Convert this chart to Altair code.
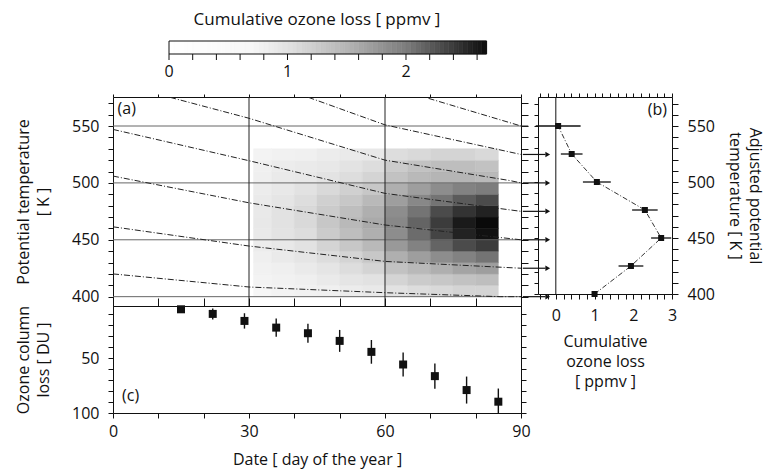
import altair as alt
import numpy as np
import pandas as pd

FONT = "Open Sans"
INK = "#111111"

# ---------------- shading scale (colour bar) ----------------
cb_max = 2.68
shade_domain = [0.0, 0.7, 1.0, 1.5, 2.0, 2.4, 2.68]
shade_range = ["#ffffff", "#f7f7f7", "#e2e2e2", "#b5b5b5", "#7d7d7d", "#3c3c3c", "#0a0a0a"]

# ---------------- panel (a): cumulative loss field ----------------
heat_day_edges = [31, 35, 40, 45, 50, 55, 60, 65, 70, 75, 80, 85]
heat_theta_edges = [400, 410, 420, 430, 440, 450, 460, 470, 480, 490, 500, 510, 520, 530]
# rows from 400-410 K (bottom) up to 520-530 K (top); columns = day bins
heat_loss = [
    [0.72, 0.75, 0.78, 0.80, 0.85, 0.90, 1.00, 1.05, 1.10, 1.15, 1.15],
    [0.75, 0.78, 0.82, 0.88, 0.95, 1.00, 1.15, 1.25, 1.30, 1.35, 1.40],
    [0.78, 0.82, 0.88, 0.95, 1.05, 1.15, 1.35, 1.45, 1.55, 1.65, 1.70],
    [0.82, 0.88, 0.95, 1.05, 1.15, 1.30, 1.55, 1.70, 1.85, 1.95, 2.05],
    [0.85, 0.92, 1.00, 1.15, 1.30, 1.45, 1.75, 1.95, 2.15, 2.30, 2.40],
    [0.90, 0.98, 1.05, 1.25, 1.40, 1.55, 1.85, 2.10, 2.35, 2.55, 2.65],
    [0.92, 1.00, 1.10, 1.30, 1.45, 1.60, 1.90, 2.15, 2.40, 2.60, 2.68],
    [0.90, 1.00, 1.10, 1.25, 1.40, 1.55, 1.85, 2.05, 2.30, 2.45, 2.55],
    [0.88, 0.95, 1.05, 1.20, 1.30, 1.45, 1.70, 1.90, 2.05, 2.20, 2.30],
    [0.85, 0.92, 1.00, 1.10, 1.20, 1.30, 1.55, 1.70, 1.85, 1.95, 2.00],
    [0.82, 0.88, 0.92, 0.98, 1.05, 1.15, 1.35, 1.45, 1.50, 1.50, 1.45],
    [0.80, 0.85, 0.88, 0.92, 0.98, 1.05, 1.25, 1.35, 1.40, 1.40, 1.35],
    [0.75, 0.78, 0.80, 0.85, 0.88, 0.92, 1.05, 1.10, 1.15, 1.15, 1.10],
]

# descent lines (day, potential temperature)
desc_ids = ["550", "525", "500", "475", "450", "425", "400"]
desc_days = [
    [69.6, 90.0],
    [43.1, 60.0, 90.0],
    [12.6, 30.0, 60.0, 87.6, 90.0],
    [0.0, 30.0, 60.0, 90.0],
    [0.0, 30.0, 60.0, 90.0],
    [0.0, 30.0, 60.0, 90.0],
    [0.0, 30.0, 60.0, 85.4, 90.0],
]
desc_theta = [
    [574.3, 550.0],
    [575.2, 551.0, 525.0],
    [575.2, 556.8, 520.0, 502.0, 500.0],
    [547.0, 519.5, 490.8, 475.0],
    [506.0, 482.5, 463.0, 450.0],
    [461.4, 444.5, 431.0, 425.0],
    [420.0, 408.5, 403.5, 400.0, 400.0],
]
arrow_theta = [525, 500, 475, 450, 425, 400]
grid_theta = [400, 450, 500, 550]
grid_days = [30, 60]

# ---------------- panel (b) ----------------
b_theta = [550, 525, 500, 475, 450, 425, 400]
b_loss = [0.06, 0.41, 1.06, 2.30, 2.72, 1.94, 1.00]
b_err = [0.58, 0.28, 0.36, 0.33, 0.26, 0.32, 0.00]

# ---------------- panel (c) ----------------
c_day = [15, 22, 29, 36, 43, 50, 57, 64, 71, 78, 85]
c_loss = [5.5, 9.7, 16.1, 22.2, 27.3, 34.3, 44.3, 55.8, 66.4, 79.1, 89.7]
c_err = [3.0, 5.0, 7.0, 8.3, 8.6, 10.0, 10.8, 11.0, 11.5, 12.3, 12.0]

# ---------------- colour bar ticks ----------------
cb_ticks = [round(0.2 * i, 1) for i in range(14)]
cb_labels = [0, 1, 2]

# ---------------- tables ----------------
heat_rows = []
for i, row in enumerate(heat_loss):
    for j, v in enumerate(row):
        heat_rows.append({"d0": heat_day_edges[j], "d1": heat_day_edges[j + 1],
                          "k0": heat_theta_edges[i], "k1": heat_theta_edges[i + 1], "v": v})
heat_df = pd.DataFrame(heat_rows)

line_rows = []
for lid, ds, ks in zip(desc_ids, desc_days, desc_theta):
    for s, (d, k) in enumerate(zip(ds, ks)):
        line_rows.append({"id": lid, "seq": s, "day": d, "theta": k})
lines_df = pd.DataFrame(line_rows)

arrows_df = pd.DataFrame({"theta": arrow_theta, "x0": 90.4, "x1": 95.4, "xh": 95.9})
stub_df = pd.DataFrame({"theta": [550], "x0": [90.0], "x1": [91.6]})

b_df = pd.DataFrame({"theta": b_theta, "loss": b_loss, "err": b_err})
b_df["lo"] = b_df["loss"] - b_df["err"]
b_df["hi"] = b_df["loss"] + b_df["err"]

c_df = pd.DataFrame({"day": c_day, "loss": c_loss, "err": c_err})
c_df["lo"] = c_df["loss"] - c_df["err"]
c_df["hi"] = c_df["loss"] + c_df["err"]

cb_edges = np.round(np.linspace(0, cb_max, 68), 4)
cb_df = pd.DataFrame({"a": cb_edges[:-1], "b": cb_edges[1:], "v": (cb_edges[:-1] + cb_edges[1:]) / 2})

# ---------------- scales ----------------
shade = alt.Scale(domain=shade_domain, range=shade_range)
xa = alt.Scale(domain=[0, 90], nice=False, zero=False)
ya = alt.Scale(domain=[391.8, 575.5], nice=False, zero=False)
xc = alt.Scale(domain=[0, 90], nice=False, zero=False)
yc = alt.Scale(domain=[2.5, 100], reverse=True, nice=False, zero=False)
xb = alt.Scale(domain=[-0.46, 3.0], nice=False, zero=False)
yb = alt.Scale(domain=[400, 575.9], nice=False, zero=False)
xcb = alt.Scale(domain=[-0.4726, 2.9705], nice=False, zero=False)

day_ticks = list(range(0, 91, 10))
theta_ticks = list(range(400, 571, 10))
du_ticks = list(range(10, 101, 10))
b_ticks = [round(-0.4 + 0.2 * i, 1) for i in range(18)]
lab50 = "datum.value % 50 == 0 ? format(datum.value, 'd') : ''"
lab30 = "datum.value % 30 == 0 ? format(datum.value, 'd') : ''"
labint = "abs(datum.value - round(datum.value)) < 0.001 ? format(datum.value, 'd') : ''"

one = pd.DataFrame({"z": [0]})
LBL = 16

# ---------------- colour bar ----------------
ramp = alt.Chart(cb_df).mark_rect(strokeWidth=0.6).encode(
    x=alt.X("a:Q", scale=xcb, axis=None),
    x2="b:Q", y=alt.value(0), y2=alt.value(13),
    color=alt.Color("v:Q", scale=shade, legend=None),
    stroke=alt.Stroke("v:Q", scale=shade, legend=None),
)
cb_frame = alt.Chart(pd.DataFrame({"a": [0.0], "b": [cb_max]})).mark_rect(
    fillOpacity=0, stroke=INK, strokeWidth=1).encode(
    x=alt.X("a:Q", scale=xcb, axis=None), x2="b:Q", y=alt.value(0), y2=alt.value(13))
cb_tick = alt.Chart(pd.DataFrame({"t": cb_ticks})).mark_rule(color=INK, strokeWidth=1).encode(
    x=alt.X("t:Q", scale=xcb, axis=None), y=alt.value(13), y2=alt.value(19))
cb_lab = alt.Chart(pd.DataFrame({"t": cb_labels})).mark_text(
    font=FONT, fontSize=LBL, color=INK, baseline="middle", align="center").encode(
    x=alt.X("t:Q", scale=xcb, axis=None), y=alt.value(31), text=alt.Text("t:Q", format="d"))
colorbar = alt.layer(ramp, cb_frame, cb_tick, cb_lab).properties(
    width=408, height=56,
    title=alt.TitleParams("Cumulative ozone loss [ ppmv ]", fontSize=17, font=FONT,
                          fontWeight="normal", anchor="middle", offset=12, color=INK),
    view=alt.ViewBackground(stroke="transparent"),
)
blank = alt.Chart(one).mark_point(opacity=0).encode(
    x=alt.value(0), y=alt.value(0)).properties(
    width=134, height=56, view=alt.ViewBackground(stroke="transparent"))

# ---------------- panel (a) ----------------
heat = alt.Chart(heat_df).mark_rect(strokeWidth=0.5).encode(
    x=alt.X("d0:Q", scale=xa, axis=alt.Axis(orient="top", values=day_ticks, labels=False,
                                             tickSize=3, title=None)),
    x2="d1:Q",
    y=alt.Y("k0:Q", scale=ya, axis=alt.Axis(orient="left", values=theta_ticks, labelExpr=lab50,
                                             tickSize=5, labelPadding=9,
                                             title=["Potential temperature", "[ K ]"], titlePadding=20)),
    y2="k1:Q",
    color=alt.Color("v:Q", scale=shade, legend=None),
    stroke=alt.Stroke("v:Q", scale=shade, legend=None),
)
hgrid = alt.Chart(pd.DataFrame({"k": grid_theta})).mark_rule(color="#666666", strokeWidth=1).encode(
    y=alt.Y("k:Q", scale=ya, axis=None))
vgrid = alt.Chart(pd.DataFrame({"d": grid_days})).mark_rule(color="#222222", strokeWidth=1).encode(
    x=alt.X("d:Q", scale=xa, axis=None))
desc = alt.Chart(lines_df).mark_line(color="#222222", strokeWidth=1, strokeDash=[6, 2, 1, 2], clip=True).encode(
    x=alt.X("day:Q", scale=xa, axis=None),
    y=alt.Y("theta:Q", scale=ya, axis=None),
    detail="id:N", order="seq:Q")
arrows = alt.Chart(arrows_df).mark_rule(color=INK, strokeWidth=1.2).encode(
    x=alt.X("x0:Q", scale=xa, axis=None), x2="x1:Q",
    y=alt.Y("theta:Q", scale=ya, axis=None))
heads = alt.Chart(arrows_df).mark_point(shape="triangle-right", filled=True, size=30, color=INK, opacity=1).encode(
    x=alt.X("xh:Q", scale=xa, axis=None),
    y=alt.Y("theta:Q", scale=ya, axis=None))
stub = alt.Chart(stub_df).mark_rule(color="#222222", strokeWidth=1).encode(
    x=alt.X("x0:Q", scale=xa, axis=None), x2="x1:Q",
    y=alt.Y("theta:Q", scale=ya, axis=None))
lab_a = alt.Chart(pd.DataFrame({"d": [1.0], "k": [565.0], "t": ["(a)"]})).mark_text(
    align="left", baseline="middle", font=FONT, fontSize=16, color=INK).encode(
    x=alt.X("d:Q", scale=xa, axis=None), y=alt.Y("k:Q", scale=ya, axis=None), text="t:N")
right_a = alt.Chart(one).mark_rule(opacity=0).encode(
    y=alt.Y("z:Q", scale=ya, axis=alt.Axis(orient="right", values=theta_ticks, labels=False,
                                            tickSize=7, title=None)))
panel_a = alt.layer(heat, hgrid, vgrid, desc, arrows, heads, stub, lab_a, right_a).resolve_axis(
    x="independent", y="independent").properties(width=408, height=209)

# ---------------- panel (c) ----------------
bars_c = alt.Chart(c_df).mark_rule(color=INK, strokeWidth=1.4, clip=True).encode(
    x=alt.X("day:Q", scale=xc, axis=alt.Axis(orient="bottom", values=day_ticks, labelExpr=lab30,
                                              tickSize=5, labelPadding=5,
                                              title="Date [ day of the year ]", titlePadding=12)),
    y=alt.Y("lo:Q", scale=yc, axis=alt.Axis(orient="left", values=du_ticks, labelExpr=lab50,
                                             tickSize=5, labelPadding=9,
                                             title=["Ozone column", "loss [ DU ]"], titlePadding=20)),
    y2="hi:Q")
pts_c = alt.Chart(c_df).mark_square(size=64, color=INK, opacity=1).encode(
    x=alt.X("day:Q", scale=xc, axis=None), y=alt.Y("loss:Q", scale=yc, axis=None))
top_c = alt.Chart(one).mark_rule(opacity=0).encode(
    x=alt.X("z:Q", scale=xc, axis=alt.Axis(orient="top", values=day_ticks, labels=False,
                                            tickSize=8, title=None)))
right_c = alt.Chart(one).mark_rule(opacity=0).encode(
    y=alt.Y("z:Q", scale=yc, axis=alt.Axis(orient="right", values=du_ticks, labels=False,
                                            tickSize=5, title=None)))
lab_c = alt.Chart(pd.DataFrame({"d": [2.0], "v": [84.3], "t": ["(c)"]})).mark_text(
    align="left", baseline="middle", font=FONT, fontSize=16, color=INK).encode(
    x=alt.X("d:Q", scale=xc, axis=None), y=alt.Y("v:Q", scale=yc, axis=None), text="t:N")
panel_c = alt.layer(bars_c, pts_c, top_c, right_c, lab_c).resolve_axis(
    x="independent", y="independent").properties(width=408, height=107)

# ---------------- panel (b) ----------------
zero_b = alt.Chart(one).mark_rule(color=INK, strokeWidth=1).encode(
    x=alt.X("z:Q", scale=xb, axis=None))
prof_b = alt.Chart(b_df).mark_line(color="#333333", strokeWidth=1, strokeDash=[5, 2, 1, 2]).encode(
    x=alt.X("loss:Q", scale=xb, axis=None), y=alt.Y("theta:Q", scale=yb, axis=None), order="theta:Q")
err_b = alt.Chart(b_df).mark_rule(color=INK, strokeWidth=1.3).encode(
    x=alt.X("lo:Q", scale=xb, axis=alt.Axis(orient="bottom", values=b_ticks, labelExpr=labint,
                                             tickSize=5, labelPadding=8,
                                             title=["Cumulative", "ozone loss", "[ ppmv ]"], titlePadding=10)),
    x2="hi:Q",
    y=alt.Y("theta:Q", scale=yb, axis=alt.Axis(orient="right", values=theta_ticks, labelExpr=lab50,
                                                tickSize=6, labelPadding=9,
                                                title=["Adjusted potential", "temperature [ K ]"],
                                                titlePadding=12)))
pts_b = alt.Chart(b_df).mark_square(size=36, color=INK, opacity=1).encode(
    x=alt.X("loss:Q", scale=xb, axis=None), y=alt.Y("theta:Q", scale=yb, axis=None))
top_b = alt.Chart(one).mark_rule(opacity=0).encode(
    x=alt.X("z:Q", scale=xb, axis=alt.Axis(orient="top", values=b_ticks, labels=False,
                                            tickSize=4, title=None)))
left_b = alt.Chart(one).mark_rule(opacity=0).encode(
    y=alt.Y("z:Q", scale=yb, axis=alt.Axis(orient="left", values=theta_ticks, labels=False,
                                            tickSize=4, title=None)))
lab_b = alt.Chart(pd.DataFrame({"x": [2.87], "k": [564.0], "t": ["(b)"]})).mark_text(
    align="right", baseline="middle", font=FONT, fontSize=16, color=INK).encode(
    x=alt.X("x:Q", scale=xb, axis=None), y=alt.Y("k:Q", scale=yb, axis=None), text="t:N")
panel_b = alt.layer(zero_b, prof_b, err_b, pts_b, top_b, left_b, lab_b).resolve_axis(
    x="independent", y="independent").properties(width=134, height=197)

# ---------------- assemble ----------------
chart = alt.concat(colorbar, blank, panel_a, panel_b, panel_c, columns=2,
                   spacing={"row": 0, "column": 17}, bounds="flush").properties(
    padding={"left": 15, "top": 10, "right": 4, "bottom": 2},
    background="white",
).configure_view(stroke=INK, strokeWidth=1).configure_axis(
    domain=False, grid=False, labelFont=FONT, titleFont=FONT, labelFontSize=LBL, titleFontSize=16,
    titleFontWeight="normal", labelColor=INK, titleColor=INK, tickColor=INK, tickWidth=1,
    labelFlush=False, labelOverlap=False, titleLineHeight=20,
).configure_title(font=FONT, fontWeight="normal", color=INK)

chart.save("out.html", embed_options={"renderer": "svg", "actions": False})
